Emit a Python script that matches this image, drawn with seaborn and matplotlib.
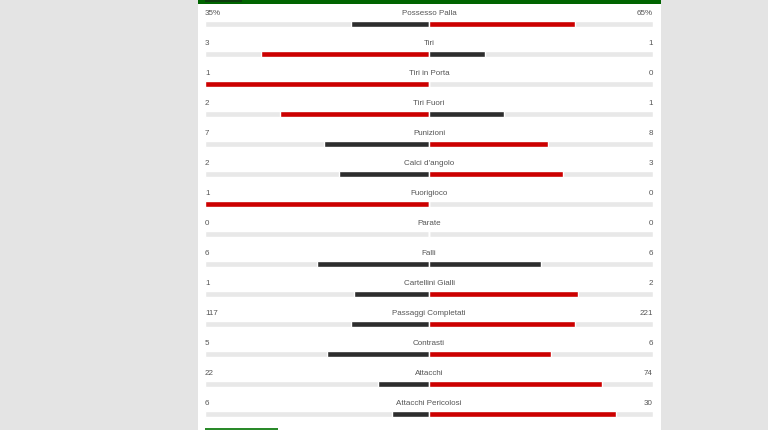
import numpy as np
import pandas as pd
import matplotlib.pyplot as plt
import seaborn as sns
from matplotlib.patches import Rectangle

# match stats (home on the left, away on the right)
labels = ['Possesso Palla', 'Tiri', 'Tiri in Porta', 'Tiri Fuori', 'Punizioni',
          "Calci d'angolo", 'Fuorigioco', 'Parate', 'Falli', 'Cartellini Gialli',
          'Passaggi Completati', 'Contrasti', 'Attacchi', 'Attacchi Pericolosi']
home = [35, 3, 1, 2, 7, 2, 1, 0, 6, 1, 117, 5, 22, 6]
away = [65, 1, 0, 1, 8, 3, 0, 0, 6, 2, 221, 6, 74, 30]
units = ['%'] + [''] * 13

RED = '#cc0000'
DARK = '#2d2d2d'
TRACK = '#e8e8e8'
TEXT = '#555555'

h = np.array(home, dtype=float)
a = np.array(away, dtype=float)
tot = h + a
h_share = np.divide(h, tot, out=np.zeros_like(h), where=tot > 0)
a_share = np.divide(a, tot, out=np.zeros_like(a), where=tot > 0)

df = pd.DataFrame({'stat': labels, 'home': -h_share, 'away': a_share,
                   'track_l': -1.0, 'track_r': 1.0})
home_pal = {s: (RED if x > y else DARK) for s, x, y in zip(labels, home, away)}
away_pal = {s: (RED if y > x else DARK) for s, x, y in zip(labels, home, away)}

sns.set_style('white')
plt.rcParams['font.family'] = ['Liberation Sans', 'DejaVu Sans']

fig = plt.figure(figsize=(7.68, 4.31), dpi=100)
fig.patch.set_facecolor('#e4e4e4')
W, H = 768, 431

# white card + green header / footer accents
fig.add_artist(Rectangle((198 / W, 0), (661 - 198) / W, 1, transform=fig.transFigure,
                         facecolor='white', edgecolor='none', zorder=-2))
fig.add_artist(Rectangle((198 / W, 1 - 5 / H), (661 - 198) / W, 5 / H, transform=fig.transFigure,
                         facecolor='#006400', edgecolor='none', zorder=-1))
fig.add_artist(Rectangle((205 / W, 1 - 3 / H), 37 / W, 3 / H, transform=fig.transFigure,
                         facecolor='#0d3b0d', edgecolor='none', zorder=-1))
fig.add_artist(Rectangle((205 / W, 0), 73 / W, 2 / H, transform=fig.transFigure,
                         facecolor='#2a8a2a', edgecolor='none', zorder=-1))

ax = fig.add_axes([205 / W, 1 / H, 448 / W, 420 / H])
ax.set_facecolor('none')

kw = dict(y='stat', width=0.23, saturation=1, orient='h', ax=ax, legend=False)
sns.barplot(data=df, x='track_l', color=TRACK, **kw)
sns.barplot(data=df, x='track_r', color=TRACK, **kw)
sns.barplot(data=df, x='home', hue='stat', palette=home_pal, **kw)
sns.barplot(data=df, x='away', hue='stat', palette=away_pal, **kw)
ax.axvline(0, color='white', lw=0.6, alpha=0.6)

for i, (lab, x, y, u) in enumerate(zip(labels, home, away, units)):
    ax.text(-1, i - 0.38, f'{x}{u}', ha='left', va='center', fontsize=5.8, color=TEXT)
    ax.text(1, i - 0.38, f'{y}{u}', ha='right', va='center', fontsize=5.8, color=TEXT)
    ax.text(0, i - 0.38, lab, ha='center', va='center', fontsize=5.8, color=TEXT)

ax.set_xlim(-1, 1)
ax.set_ylim(len(labels) - 0.5, -0.5)
ax.set_axis_off()

fig.savefig('out.png', dpi=100)
